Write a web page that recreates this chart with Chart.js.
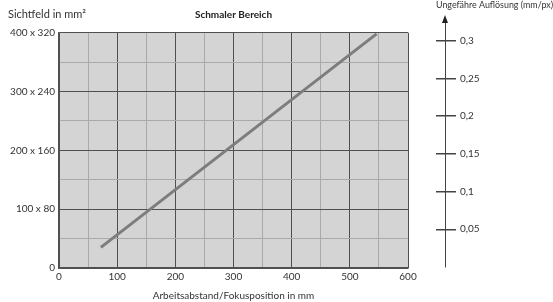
<!DOCTYPE html>
<html>
<head>
<meta charset="utf-8">
<script src="https://cdn.jsdelivr.net/npm/chart.js@4"></script>
<style>
  html, body { margin: 0; padding: 0; background: #fff; overflow: hidden; }
  #wrap { position: relative; width: 553px; height: 302px; }
  #main { position: absolute; left: 0; top: 0; }
  #res { position: absolute; left: 420px; top: -1px; }
</style>
</head>
<body>
<div id="wrap">
  <canvas id="main" width="553" height="302"></canvas>
  <canvas id="res" width="133" height="303"></canvas>
</div>
<script>
// field of view (y) vs working distance (x)
const sizeLabels = ['0', '100 x 80', '200 x 160', '300 x 240', '400 x 320'];
const distance = [72, 546];
const field = [35, 398];
// right hand resolution scale
const resolutionTicks = [0.05, 0.1, 0.15, 0.2, 0.25, 0.3];

const FONT = 'Lato, "Open Sans", sans-serif';
const TEXT = '#333';
const MAJOR = '#505050';
const MINOR = '#a9a9a9';

// gray plot background
const plotBg = {
  id: 'plotBg',
  beforeDraw(chart) {
    const { ctx, chartArea: a } = chart;
    ctx.save();
    ctx.fillStyle = '#d4d4d5';
    ctx.fillRect(a.left, a.top, a.right - a.left, a.bottom - a.top);
    ctx.restore();
  }
};

new Chart(document.getElementById('main'), {
  type: 'line',
  data: {
    datasets: [{
      data: distance.map((x, i) => ({ x, y: field[i] })),
      borderColor: '#7d7d7d',
      borderWidth: 3,
      pointRadius: 0,
      fill: false
    }]
  },
  options: {
    responsive: false,
    animation: false,
    layout: { padding: { left: 8, right: 145, top: 0, bottom: 0 } },
    plugins: {
      legend: { display: false },
      tooltip: { enabled: false },
      title: {
        display: true,
        text: 'Sichtfeld in mm²',
        align: 'start',
        color: TEXT,
        font: { family: FONT, size: 11, weight: 'normal' },
        padding: { top: 8, bottom: 0 }
      },
      subtitle: {
        display: true,
        text: 'Schmaler Bereich',
        fullSize: false,
        color: '#222',
        font: { family: FONT, size: 10, weight: 'bold' },
        padding: { top: -12.5, bottom: 12 }
      }
    },
    scales: {
      x: {
        type: 'linear',
        min: 0,
        max: 600,
        afterFit(scale) { scale.height = 34; },
        ticks: {
          stepSize: 50,
          color: TEXT,
          padding: 3,
          maxRotation: 0,
          autoSkip: false,
          font: { family: FONT, size: 10 },
          callback: v => (v % 100 === 0 ? String(v) : '')
        },
        grid: {
          drawTicks: false,
          color: c => (c.tick.value % 100 === 0 ? MAJOR : MINOR),
          lineWidth: 1
        },
        border: { display: true, color: MAJOR, width: 1.5 },
        title: {
          display: true,
          text: 'Arbeitsabstand/Fokusposition in mm',
          color: TEXT,
          font: { family: FONT, size: 10 },
          padding: { top: 0, bottom: 0 }
        }
      },
      y: {
        type: 'linear',
        min: 0,
        max: 400,
        afterFit(scale) { scale.width = 51; },
        ticks: {
          stepSize: 50,
          color: TEXT,
          padding: 4,
          autoSkip: false,
          font: { family: FONT, size: 10 },
          callback: v => (v % 100 === 0 ? sizeLabels[v / 100] : '')
        },
        grid: {
          drawTicks: false,
          color: c => (c.tick.value % 100 === 0 ? MAJOR : MINOR),
          lineWidth: 1
        },
        border: { display: true, color: MAJOR, width: 1.5 }
      }
    }
  },
  plugins: [plotBg]
});

// arrow head on top of the resolution axis
const axisArrow = {
  id: 'axisArrow',
  afterDraw(chart) {
    const { ctx, chartArea: a } = chart;
    const x = a.right;
    const y = a.top;
    ctx.save();
    ctx.fillStyle = '#222';
    ctx.beginPath();
    ctx.moveTo(x, y - 3);
    ctx.lineTo(x - 3, y + 5);
    ctx.lineTo(x + 3, y + 5);
    ctx.closePath();
    ctx.fill();
    ctx.restore();
  }
};

new Chart(document.getElementById('res'), {
  type: 'line',
  data: { datasets: [{ data: [] }] },
  options: {
    responsive: false,
    animation: false,
    layout: { padding: { left: 16, right: 0, top: 0, bottom: 35 } },
    plugins: {
      legend: { display: false },
      tooltip: { enabled: false },
      title: {
        display: true,
        text: 'Ungefähre Auflösung (mm/px)',
        align: 'end',
        color: TEXT,
        font: { family: FONT, size: 10, weight: 'normal' },
        padding: { top: 0, bottom: 7 }
      }
    },
    scales: {
      x: { type: 'linear', display: false, min: 0, max: 1 },
      y: {
        type: 'linear',
        position: 'right',
        min: 0,
        max: 0.33,
        afterFit(scale) { scale.width = 108; },
        afterBuildTicks(scale) {
          scale.ticks = resolutionTicks.map(v => ({ value: v }));
        },
        ticks: {
          color: TEXT,
          padding: 4,
          font: { family: FONT, size: 10 },
          callback: v => String(Math.round(v * 100) / 100).replace('.', ',')
        },
        grid: {
          drawOnChartArea: true,
          drawTicks: true,
          tickLength: 11,
          color: '#444',
          lineWidth: 1.5
        },
        border: { display: true, color: '#444', width: 1 }
      }
    }
  },
  plugins: [axisArrow]
});
</script>
</body>
</html>
